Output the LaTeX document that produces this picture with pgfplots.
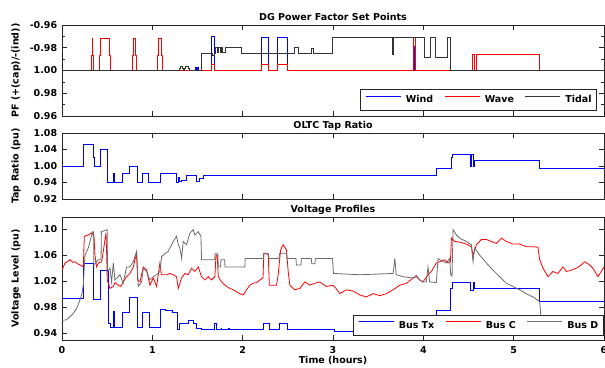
\documentclass[border=0pt]{standalone}
\usepackage{fontspec}
\setmainfont{DejaVu Sans}
\usepackage{pgfplots}
\pgfplotsset{compat=1.18}
\definecolor{tidal}{gray}{0.2}
\definecolor{busd}{gray}{0.42}
\definecolor{frame}{gray}{0.15}
\definecolor{pblue}{rgb}{0,0,1}
\definecolor{pred}{rgb}{1,0,0}
\begin{document}
\fontsize{9.5}{11}\selectfont\bfseries
\begin{tikzpicture}
\pgfplotsset{
  every axis/.append style={
    scale only axis, width=542pt, anchor=south west,
    xmin=0, xmax=6, xtick={0,...,6},
    tick align=inside, tick pos=both,
    major tick length=5pt, minor tick length=3pt,
    axis line style={frame, line width=0.6pt},
    every tick/.style={frame, line width=0.6pt},
    font=\fontsize{9.5}{11}\selectfont\bfseries,
    tick label style={font=\fontsize{9.5}{11}\selectfont\bfseries},
    yticklabel style={xshift=-1.5pt},
    xticklabel style={yshift=-3.3pt},
    /pgf/number format/assume math mode=true,
    title style={at={(0.5,1)}, anchor=base, yshift=-1.5pt, inner sep=0pt},
    ylabel style={at={(axis description cs:-0.0849,0.5)}, anchor=center, inner sep=0pt},
    xlabel style={at={(axis description cs:0.5,0)}, anchor=center, yshift=-21pt, inner sep=0pt},
    legend style={draw=frame, line width=0.6pt, fill=white, legend columns=3,
      inner xsep=5pt, inner ysep=6pt,
      nodes={inner sep=0pt, font=\fontsize{9.5}{11}\selectfont\bfseries},
      /tikz/every odd column/.append style={column sep=4.5pt},
      /tikz/every even column/.append style={column sep=11pt}},
    legend cell align=left,
    every axis plot/.append style={line width=0.8pt},
  }
}
% ---------------- Top panel ----------------
\begin{axis}[at={(62pt,251pt)}, height=91pt,
  title={DG Power Factor Set Points},
  ylabel={PF (+(cap)/-(ind))},
  ymin=-4, ymax=4, ytick={-4,-2,0,2,4},
  yticklabels={0.96,0.98,1.00,-0.98,-0.96},
  minor ytick={-3,-1,1,3},
  xticklabels={},
  legend style={at={(0.987,0.058)}, anchor=south east},
  legend image code/.code={\draw[#1, line width=1pt] (0pt,3.5pt) -- (35pt,3.5pt);},
]
\addplot[pblue, const plot] coordinates {
(0,0)(1.475,0.3)(1.485,0)(1.495,0.3)(1.505,0)(1.655,3.0)(1.69,0)(2.21,2.9)(2.28,0)(2.39,2.9)(2.50,0)(3.897,2.1)(3.899,0)(6,0)};
\addlegendentry{Wind}
\addplot[pred, const plot] coordinates {
(0,0)(0.32,1.3)(0.332,2.8)(0.342,1.3)(0.35,0)
(0.41,1.3)(0.425,2.8)(0.52,1.3)(0.535,0)
(0.78,1.3)(0.79,2.8)(0.815,1.3)(0.828,0)
(1.06,1.3)(1.07,2.8)(1.095,1.3)(1.108,0)
(1.655,0.5)(1.69,0)(2.21,0.5)(2.28,0)(2.39,0.5)(2.50,0)
(3.886,2.9)(3.916,0)(4.54,1.42)(4.56,0)(4.585,1.42)(5.28,0)(6,0)};
\addlegendentry{Wave}
\addplot[tidal, const plot] coordinates {
(0,0)(1.30,0.2)(1.31,0.4)(1.33,0.2)(1.34,0)(1.36,0.2)(1.37,0.4)(1.395,0.2)(1.405,0)
(1.54,1.5)(1.66,1.3)(1.69,1.5)(1.70,2.0)(1.72,1.6)(1.735,2.0)(1.75,1.6)(1.765,2.0)(1.78,1.6)
(1.81,2.05)(1.99,1.5)(2.575,2.0)(2.62,1.5)(2.76,1.95)(2.785,1.5)(2.99,2.95)(3.66,1.4)(3.67,2.95)
(4.015,1.18)(4.075,2.95)(4.135,1.18)(4.27,2.95)(4.305,0)(6,0)};
\addlegendentry{Tidal}
\end{axis}
% ---------------- Middle panel ----------------
\begin{axis}[at={(62pt,168pt)}, height=66pt,
  title={OLTC Tap Ratio},
  ylabel={Tap Ratio (pu)},
  ymin=0.92, ymax=1.08, ytick={0.92,0.96,1.00,1.04,1.08},
  yticklabels={0.92,0.94,1.00,1.04,1.08},
  xticklabels={},
]
\addplot[pblue, const plot] coordinates {
(0,1.00)(0.235,1.0525)(0.345,1.02)(0.36,1.00)(0.43,1.04)(0.50,0.96)(0.565,0.982)(0.585,0.96)
(0.67,0.982)(0.75,1.00)(0.83,0.96)(0.885,0.982)(0.96,0.96)(1.085,0.982)(1.27,0.96)(1.285,0.972)
(1.30,0.963)(1.325,0.966)(1.38,0.976)(1.49,0.963)(1.525,0.97)(1.56,0.976)(4.15,0.994)(4.31,1.02)
(4.325,1.027)(4.52,1.00)(4.535,1.027)(4.55,1.00)(4.565,1.014)(5.28,0.994)(6,0.994)};
\end{axis}
% ---------------- Bottom panel ----------------
\begin{axis}[at={(62pt,27pt)}, height=123pt,
  title={Voltage Profiles},
  ylabel={Voltage Level (pu)},
  xlabel={Time (hours)},
  ymin=0.93, ymax=1.1185, ytick={0.94,0.98,1.02,1.06,1.10},
  yticklabels={0.94,0.98,1.02,1.06,1.10},
  xticklabels={0,1,2,3,4,5,6},
  legend style={at={(0.999,0.0325)}, anchor=south east},
]
\addplot[pblue, const plot, forget plot] coordinates {
(0,0.994)(0.24,1.047)(0.35,0.992)(0.43,1.036)(0.51,0.955)(0.54,0.949)(0.565,0.974)(0.585,0.949)
(0.665,0.972)(0.75,0.996)(0.83,0.949)(0.89,0.973)(0.965,0.949)(1.085,0.977)(1.15,0.976)(1.22,0.973)
(1.275,0.946)(1.305,0.955)(1.40,0.960)(1.455,0.955)(1.49,0.948)(1.545,0.946)(1.685,0.955)(1.71,0.946)
(1.76,0.948)(1.77,0.946)(1.84,0.948)(1.85,0.946)(2.23,0.955)(2.30,0.946)(2.41,0.955)(2.50,0.946)
(3.02,0.9425)(4.15,0.976)(4.30,1.009)(4.32,1.0185)(4.52,1.0066)(4.55,1.0185)(4.57,1.009)(5.285,0.989)(6,0.989)};
\addplot[pred, forget plot] coordinates {
(0,1.037)(0.033,1.048)(0.06,1.050)(0.088,1.053)(0.12,1.049)(0.144,1.050)(0.17,1.047)(0.199,1.045)
(0.236,1.042)(0.247,1.089)(0.291,1.091)(0.328,1.094)(0.354,1.089)(0.365,1.060)(0.383,1.042)(0.402,1.048)
(0.439,1.050)(0.457,1.066)(0.487,1.094)(0.495,1.060)(0.501,1.022)(0.531,1.009)(0.568,1.012)(0.586,1.018)
(0.623,1.014)(0.65,1.012)(0.678,1.019)(0.715,1.027)(0.752,1.032)(0.789,1.042)(0.826,1.063)(0.837,1.022)
(0.863,1.019)(0.900,1.042)(0.937,1.037)(0.973,1.014)(1.010,1.025)(1.047,1.012)(1.084,1.048)(1.10,1.030)
(1.121,1.030)(1.158,1.030)(1.195,1.032)(1.232,1.030)(1.268,1.027)(1.287,1.009)(1.324,1.025)(1.361,1.032)
(1.398,1.030)(1.434,1.040)(1.471,1.035)(1.508,1.042)(1.545,1.027)(1.582,1.022)(1.619,1.027)(1.656,1.022)
(1.692,1.027)(1.705,1.060)(1.718,1.060)(1.73,1.027)(1.766,1.019)(1.822,1.012)(1.86,1.009)(1.895,1.007)
(1.93,1.004)(1.969,1.001)(2.006,0.999)(2.043,1.007)(2.08,1.014)(2.117,1.017)(2.155,1.018)(2.190,1.022)
(2.225,1.025)(2.235,1.063)(2.283,1.061)(2.295,1.014)(2.375,1.014)(2.393,1.030)(2.42,1.068)(2.448,1.076)
(2.485,1.068)(2.504,1.035)(2.522,1.014)(2.577,1.007)(2.633,1.009)(2.688,1.019)(2.743,1.014)(2.80,1.017)
(2.854,1.019)(2.928,1.012)(3.001,1.014)(3.04,1.008)(3.075,1.001)(3.149,1.007)(3.223,1.005)(3.297,0.999)
(3.370,0.996)(3.444,1.001)(3.518,0.998)(3.591,1.001)(3.665,1.007)(3.739,1.014)(3.813,1.017)(3.886,1.025)
(3.923,1.027)(3.960,1.022)(3.996,1.019)(4.052,1.030)(4.089,1.035)(4.144,1.048)(4.181,1.050)(4.237,1.053)
(4.274,1.048)(4.300,1.050)(4.311,1.086)(4.347,1.081)(4.403,1.080)(4.476,1.077)(4.532,1.073)(4.550,1.060)
(4.587,1.076)(4.643,1.084)(4.698,1.084)(4.753,1.081)(4.808,1.078)(4.864,1.086)(4.919,1.081)(4.993,1.077)
(5.066,1.077)(5.140,1.073)(5.214,1.073)(5.269,1.072)(5.288,1.053)(5.325,1.040)(5.380,1.027)(5.435,1.035)
(5.490,1.032)(5.546,1.042)(5.583,1.035)(5.638,1.037)(5.693,1.040)(5.749,1.045)(5.786,1.050)(5.841,1.045)
(5.878,1.040)(5.933,1.027)(5.970,1.035)(6,1.042)};
\addplot[busd, forget plot] coordinates {
(0,0.960)(0.05,0.961)(0.107,0.968)(0.162,0.978)(0.218,0.999)(0.236,1.014)(0.254,1.060)(0.291,1.071)
(0.339,1.096)(0.35,1.096)(0.352,1.045)(0.402,1.053)(0.432,1.053)(0.436,1.096)(0.50,1.099)(0.504,1.035)
(0.531,1.040)(0.549,1.019)(0.568,1.048)(0.586,1.022)(0.642,1.030)(0.678,1.017)(0.715,1.042)(0.752,1.042)
(0.789,1.050)(0.826,1.066)(0.844,1.012)(0.881,1.019)(0.900,1.040)(0.937,1.035)(0.973,1.022)(1.010,1.027)
(1.047,1.030)(1.084,1.035)(1.103,1.058)(1.176,1.066)(1.232,1.081)(1.268,1.089)(1.287,1.076)(1.305,1.071)
(1.324,1.055)(1.342,1.081)(1.379,1.076)(1.416,1.094)(1.453,1.099)(1.471,1.091)(1.508,1.096)(1.538,1.089)
(1.545,1.053)(1.69,1.053)(1.695,1.062)(1.725,1.062)(1.73,1.042)(1.755,1.042)(1.76,1.053)(1.80,1.053)
(1.805,1.042)(2.024,1.042)(2.028,1.055)(2.227,1.055)(2.235,1.063)(2.283,1.063)(2.29,1.055)(2.40,1.055)
(2.41,1.063)(2.485,1.063)(2.49,1.055)(2.59,1.055)(2.595,1.045)(2.645,1.045)(2.65,1.055)(2.76,1.055)
(2.765,1.047)(2.80,1.047)(2.805,1.055)(2.995,1.055)(3.005,1.032)(3.297,1.030)(3.666,1.032)(3.684,1.055)
(3.70,1.030)(3.776,1.027)(3.886,1.025)(3.923,1.029)(3.96,1.022)(3.996,1.019)(4.033,1.019)(4.052,1.042)
(4.07,1.019)(4.144,1.018)(4.163,1.055)(4.181,1.053)(4.255,1.048)(4.292,1.055)(4.303,1.030)(4.318,1.028)
(4.329,1.099)(4.366,1.091)(4.403,1.086)(4.476,1.081)(4.532,1.076)(4.55,1.050)(4.569,1.071)(4.624,1.060)
(4.698,1.048)(4.771,1.037)(4.845,1.027)(4.919,1.017)(4.993,1.012)(5.066,1.007)(5.14,1.001)(5.214,0.996)
(5.288,0.989)(5.30,0.968)(5.36,0.962)(5.45,0.960)(6,0.960)};
\addlegendimage{legend image code/.code={\draw[draw=pblue, line width=1pt] (0pt,3.5pt) -- (35pt,3.5pt);}}
\addlegendentry{Bus Tx}
\addlegendimage{legend image code/.code={\draw[draw=pred, line width=1pt] (0pt,3.5pt) -- (35pt,3.5pt);}}
\addlegendentry{Bus C}
\addlegendimage{legend image code/.code={\draw[draw=busd, line width=1pt] (0pt,3.5pt) -- (35pt,3.5pt);}}
\addlegendentry{Bus D}
\end{axis}
\pgfresetboundingbox
\path[use as bounding box] (0pt,0pt) rectangle (605pt,367pt);
\end{tikzpicture}
\end{document}
